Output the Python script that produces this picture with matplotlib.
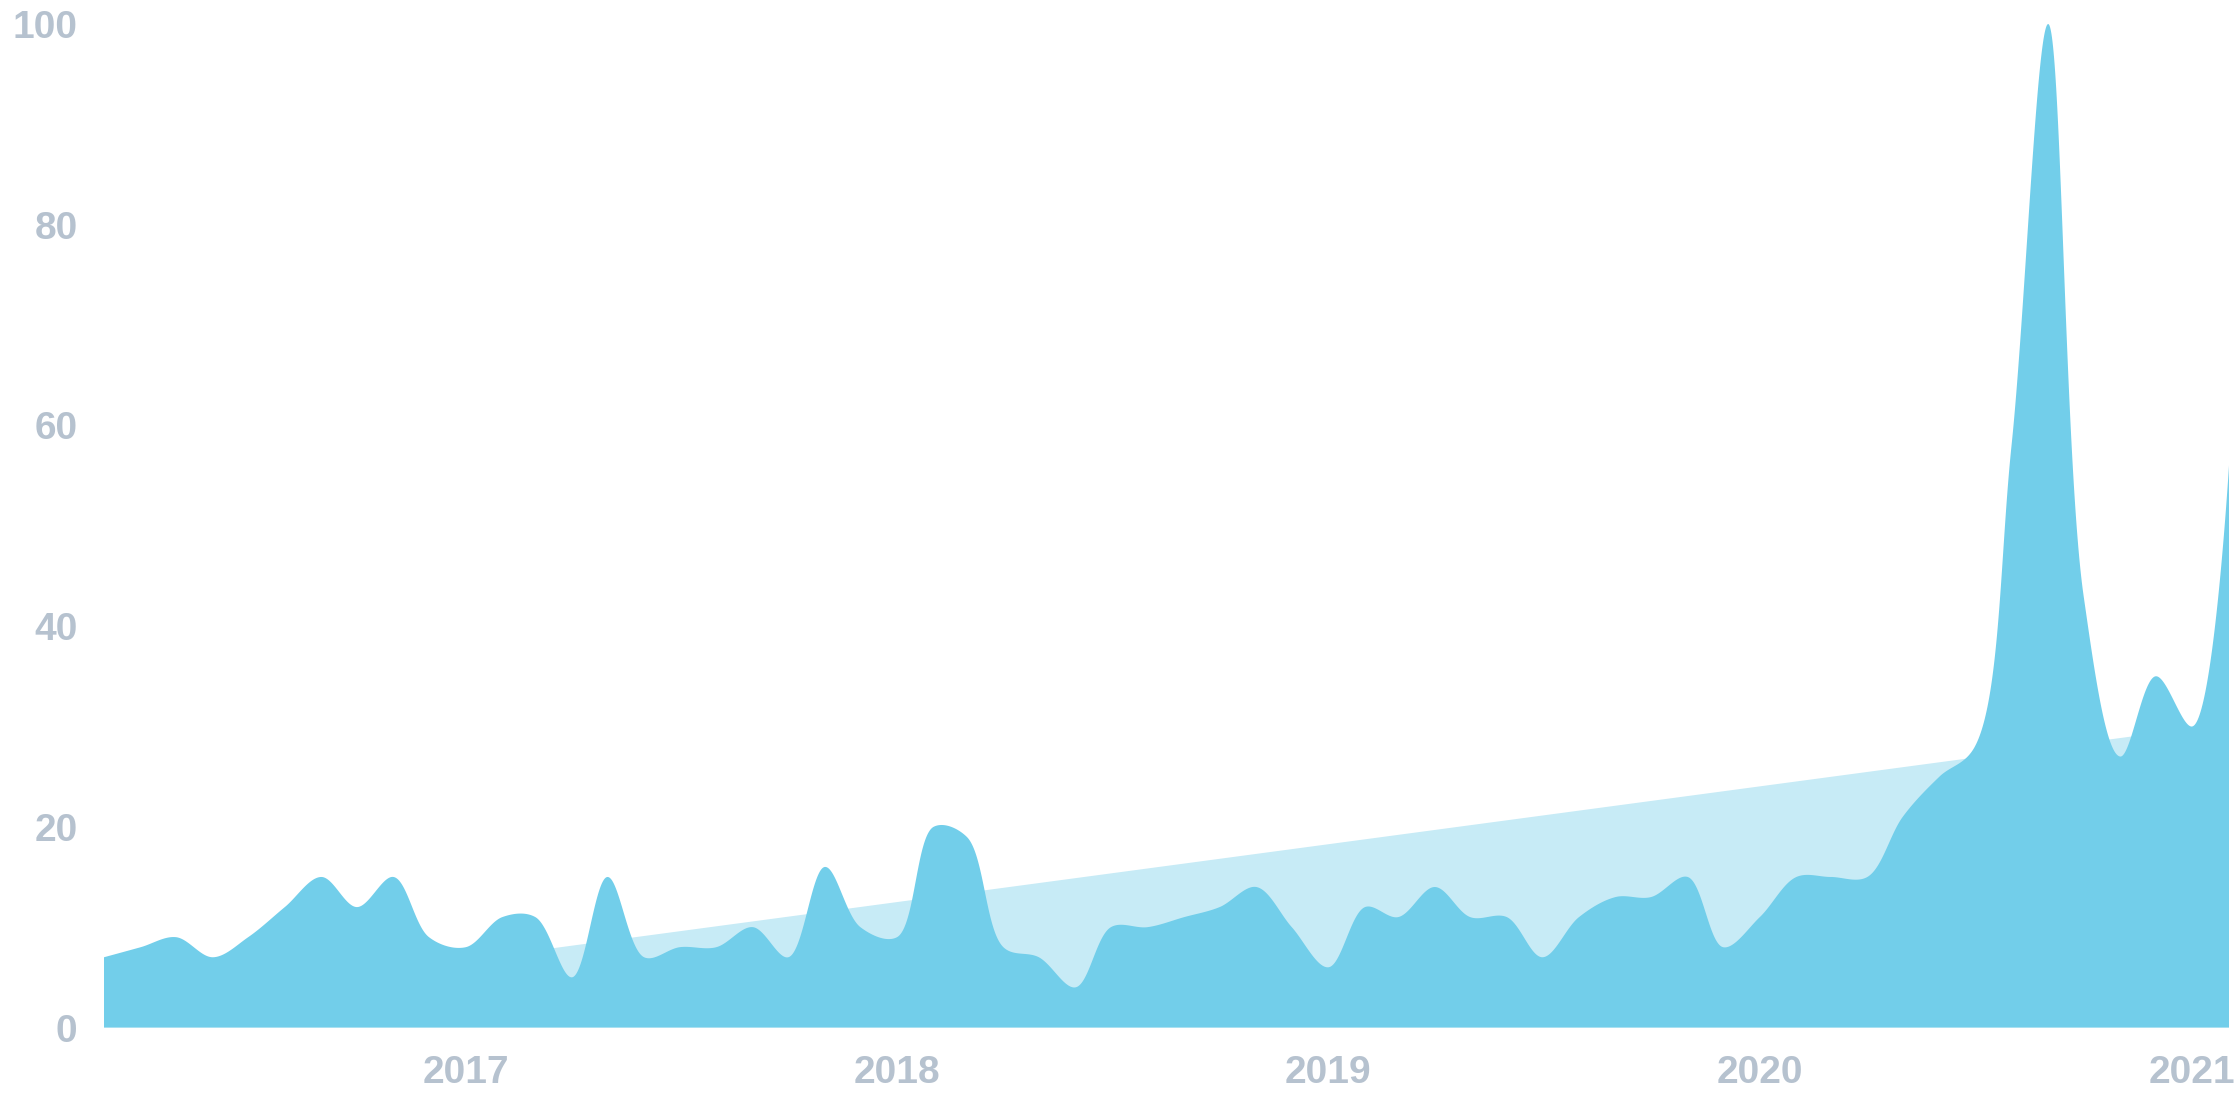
import numpy as np
import pandas as pd
import matplotlib
matplotlib.use("Agg")
import matplotlib.pyplot as plt
import matplotlib.dates as mdates

# ---------------- data ----------------
months = pd.date_range("2016-03-01", "2021-02-01", freq="MS")
values = [7, 8, 9, 7, 9, 12, 15, 12, 15, 9,
          8, 11, 11, 5, 15, 7, 8, 8, 10, 7,
          16, 10, 9, 20, 19, 8, 7, 4, 10, 10,
          11, 12, 14, 10, 6, 12, 11, 14, 11, 11,
          7, 11, 13, 13, 15, 8, 11, 15, 15, 15,
          21, 25, 28, 58, 100, 43, 27, 35, 30, 56]
trend_values = [1.9, 30.3]          # trend at first and last month
year_ticks = ["2017", "2018", "2019", "2020", "2021"]
y_ticks = [0, 20, 40, 60, 80, 100]

MAIN = "#72CEEA"
TREND = "#C7EBF6"
TEXT = "#B6C2CF"

W, H = 2240, 1120
fig = plt.figure(figsize=(W / 100, H / 100), dpi=100)
left, right, bottom_px, top_px = 104, 2229, 1027.5, 24
ax = fig.add_axes([left / W, (H - bottom_px) / H, (right - left) / W,
                   (bottom_px - top_px) / H])

x = mdates.date2num(months)
ax.set_xlim(x[0], x[-1])
ax.set_ylim(0, 100)


def catmull_rom(P, alpha=0.5, n=60):
    """d3.curveCatmullRom (centripetal, alpha 0.5) computed in display space."""
    eps = 1e-12
    N = len(P)
    out = [P[0]]
    t = np.linspace(0, 1, n)[1:, None]
    for i in range(N - 1):
        p1, p2 = P[i], P[i + 1]
        l12 = np.hypot(*(p2 - p1))
        l12_a, l12_2a = l12 ** alpha, l12 ** (2 * alpha)
        c1 = p1.copy()
        if i > 0:
            p0 = P[i - 1]
            l01 = np.hypot(*(p1 - p0))
            l01_a, l01_2a = l01 ** alpha, l01 ** (2 * alpha)
            if l01_a > eps:
                a = 2 * l01_2a + 3 * l01_a * l12_a + l12_2a
                nn = 3 * l01_a * (l01_a + l12_a)
                c1 = (p1 * a - p0 * l12_2a + p2 * l01_2a) / nn
        c2 = p2.copy()
        if i + 2 < N:
            p3 = P[i + 2]
            l23 = np.hypot(*(p3 - p2))
            l23_a, l23_2a = l23 ** alpha, l23 ** (2 * alpha)
            if l23_a > eps:
                b = 2 * l23_2a + 3 * l23_a * l12_a + l12_2a
                m = 3 * l23_a * (l23_a + l12_a)
                c2 = (p2 * b + p1 * l23_2a - p3 * l12_2a) / m
        seg = ((1 - t) ** 3) * p1 + 3 * ((1 - t) ** 2) * t * c1 \
            + 3 * (1 - t) * t ** 2 * c2 + t ** 3 * p2
        out.extend(seg)
    return np.array(out)


# trend area
tx = [x[0], x[-1], x[-1], x[0]]
ty = [trend_values[0], trend_values[1], 0, 0]
ax.fill(tx, ty, color=TREND, lw=0, zorder=1, clip_on=False)

# main smoothed area
disp = ax.transData.transform(np.column_stack([x, values]))
curve = catmull_rom(disp)
curve_data = ax.transData.inverted().transform(curve)
poly_x = np.concatenate([curve_data[:, 0], [x[-1], x[0]]])
poly_y = np.concatenate([curve_data[:, 1], [0, 0]])
ax.fill(poly_x, poly_y, color=MAIN, lw=0, zorder=2, clip_on=False)

for s in ax.spines.values():
    s.set_visible(False)

font = dict(family=["Liberation Sans", "DejaVu Sans"], weight="bold", size=28)
ax.set_yticks(y_ticks)
ax.set_yticklabels([str(v) for v in y_ticks], color=TEXT, fontdict=font)
xt = [mdates.date2num(pd.Timestamp(f"{yr}-01-01")) for yr in year_ticks]
ax.set_xticks(xt)
ax.set_xticklabels(year_ticks, color=TEXT, fontdict=font)
ax.tick_params(axis="y", length=0, pad=19)
ax.tick_params(axis="x", length=0, pad=20)
ax.set_facecolor("none")

fig.savefig("out.png", dpi=100, facecolor="white")
